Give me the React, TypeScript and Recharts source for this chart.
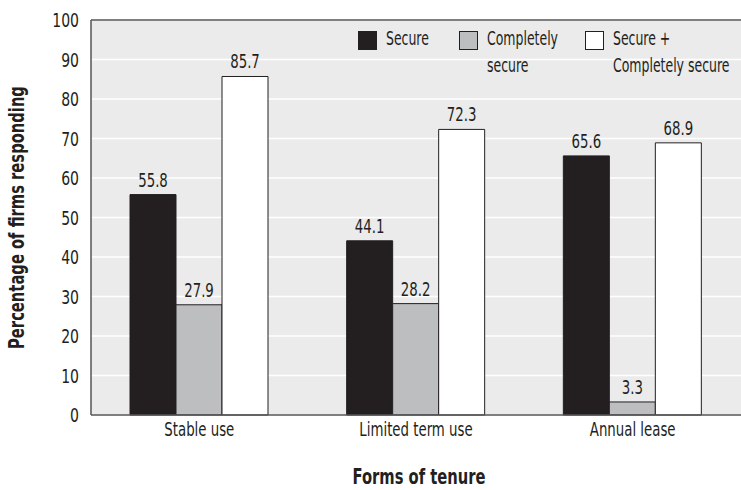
import { BarChart, Bar, XAxis, YAxis, CartesianGrid, LabelList, ReferenceLine } from 'recharts'

const tenures = ['Stable use', 'Limited term use', 'Annual lease']
const secure = [55.8, 44.1, 65.6]
const completelySecure = [27.9, 28.2, 3.3]
const combined = [85.7, 72.3, 68.9]
const yTicks = [0, 10, 20, 30, 40, 50, 60, 70, 80, 90, 100]

const seriesKeys = ['secure', 'complete', 'both']
const seriesNames = ['Secure', 'Completely\nsecure', 'Secure +\nCompletely secure']
const seriesColors = ['#231f20', '#bcbec0', '#ffffff']

const data = tenures.map((t, i) => ({
    tenure: t,
    secure: secure[i],
    complete: completelySecure[i],
    both: combined[i],
}))

const FONT = "'DejaVu Sans Condensed', 'DejaVu Sans', sans-serif"
const INK = '#231f20'
const SX = 0.78 // squeeze text horizontally, the source uses a condensed face

// text drawn narrower than the installed fonts allow
function Narrow({ x, y, size, anchor = 'middle', weight = 400, rotate = false, children }: any) {
    return (
        <text transform={`translate(${x},${y})${rotate ? ' rotate(-90)' : ''} scale(${SX},1)`}
            textAnchor={anchor} fontSize={size} fontWeight={weight} fontFamily={FONT} fill={INK}>
            {children}
        </text>
    )
}

const YTick = ({ x, y, payload }: any) => <Narrow x={x} y={y + 7} size={20} anchor="end">{payload.value}</Narrow>
const XTick = ({ x, y, payload }: any) => <Narrow x={x} y={y + 13} size={19}>{payload.value}</Narrow>
const BarValue = ({ x, y, width, value }: any) => <Narrow x={x + width / 2} y={y - 8} size={19}>{value}</Narrow>

const XTitle = ({ viewBox }: any) => (
    <Narrow x={viewBox.x + viewBox.width / 2 + 3} y={viewBox.y + 69} size={21} weight={600}>Forms of tenure</Narrow>
)
const YTitle = ({ viewBox }: any) => (
    <Narrow x={viewBox.x - 7} y={viewBox.y + viewBox.height / 2} size={21} weight={600} rotate>Percentage of firms responding</Narrow>
)

function LegendOverlay() {
    const lefts = [358, 459, 585]
    return (
        <>
            {seriesNames.map((n, i) => (
                <div key={i} style={{ position: 'absolute', left: lefts[i], top: 31, display: 'flex', alignItems: 'flex-start' }}>
                    <div style={{ width: 17, height: 17, background: seriesColors[i], border: `1px solid ${INK}`, marginRight: 9, flexShrink: 0 }} />
                    <div style={{ whiteSpace: 'pre', lineHeight: '27px', marginTop: -6, fontFamily: FONT, fontSize: 19, color: INK, transform: 'scaleX(0.73)', transformOrigin: 'left top' }}>{n}</div>
                </div>
            ))}
        </>
    )
}

export default function App() {
    return (
        <div style={{ position: 'absolute', left: 0, top: 0, width: 741, height: 490, background: '#fff' }}>
            <BarChart width={741} height={490} data={data} margin={{ top: 20, right: 0, left: 31, bottom: 45 }}
                barGap={0} barCategoryGap="18%">
                <CartesianGrid vertical={false} stroke="#ffffff" strokeWidth={1.5} fill="#ebebec" />
                <XAxis dataKey="tenure" height={30} tickLine={false} stroke="#555" strokeWidth={1.5}
                    tick={<XTick />} label={<XTitle />} />
                <YAxis domain={[0, 100]} ticks={yTicks} width={60} tickLine={false} stroke="#555" strokeWidth={1.5}
                    tick={<YTick />} tickMargin={6} interval={0} label={<YTitle />} />
                <ReferenceLine y={100} stroke="#555" strokeWidth={1.5} />
                {seriesKeys.map((k, i) => (
                    <Bar key={k} dataKey={k} name={seriesNames[i]} fill={seriesColors[i]} stroke={INK} isAnimationActive={false}>
                        <LabelList dataKey={k} content={<BarValue />} />
                    </Bar>
                ))}
            </BarChart>
            <LegendOverlay />
        </div>
    )
}
